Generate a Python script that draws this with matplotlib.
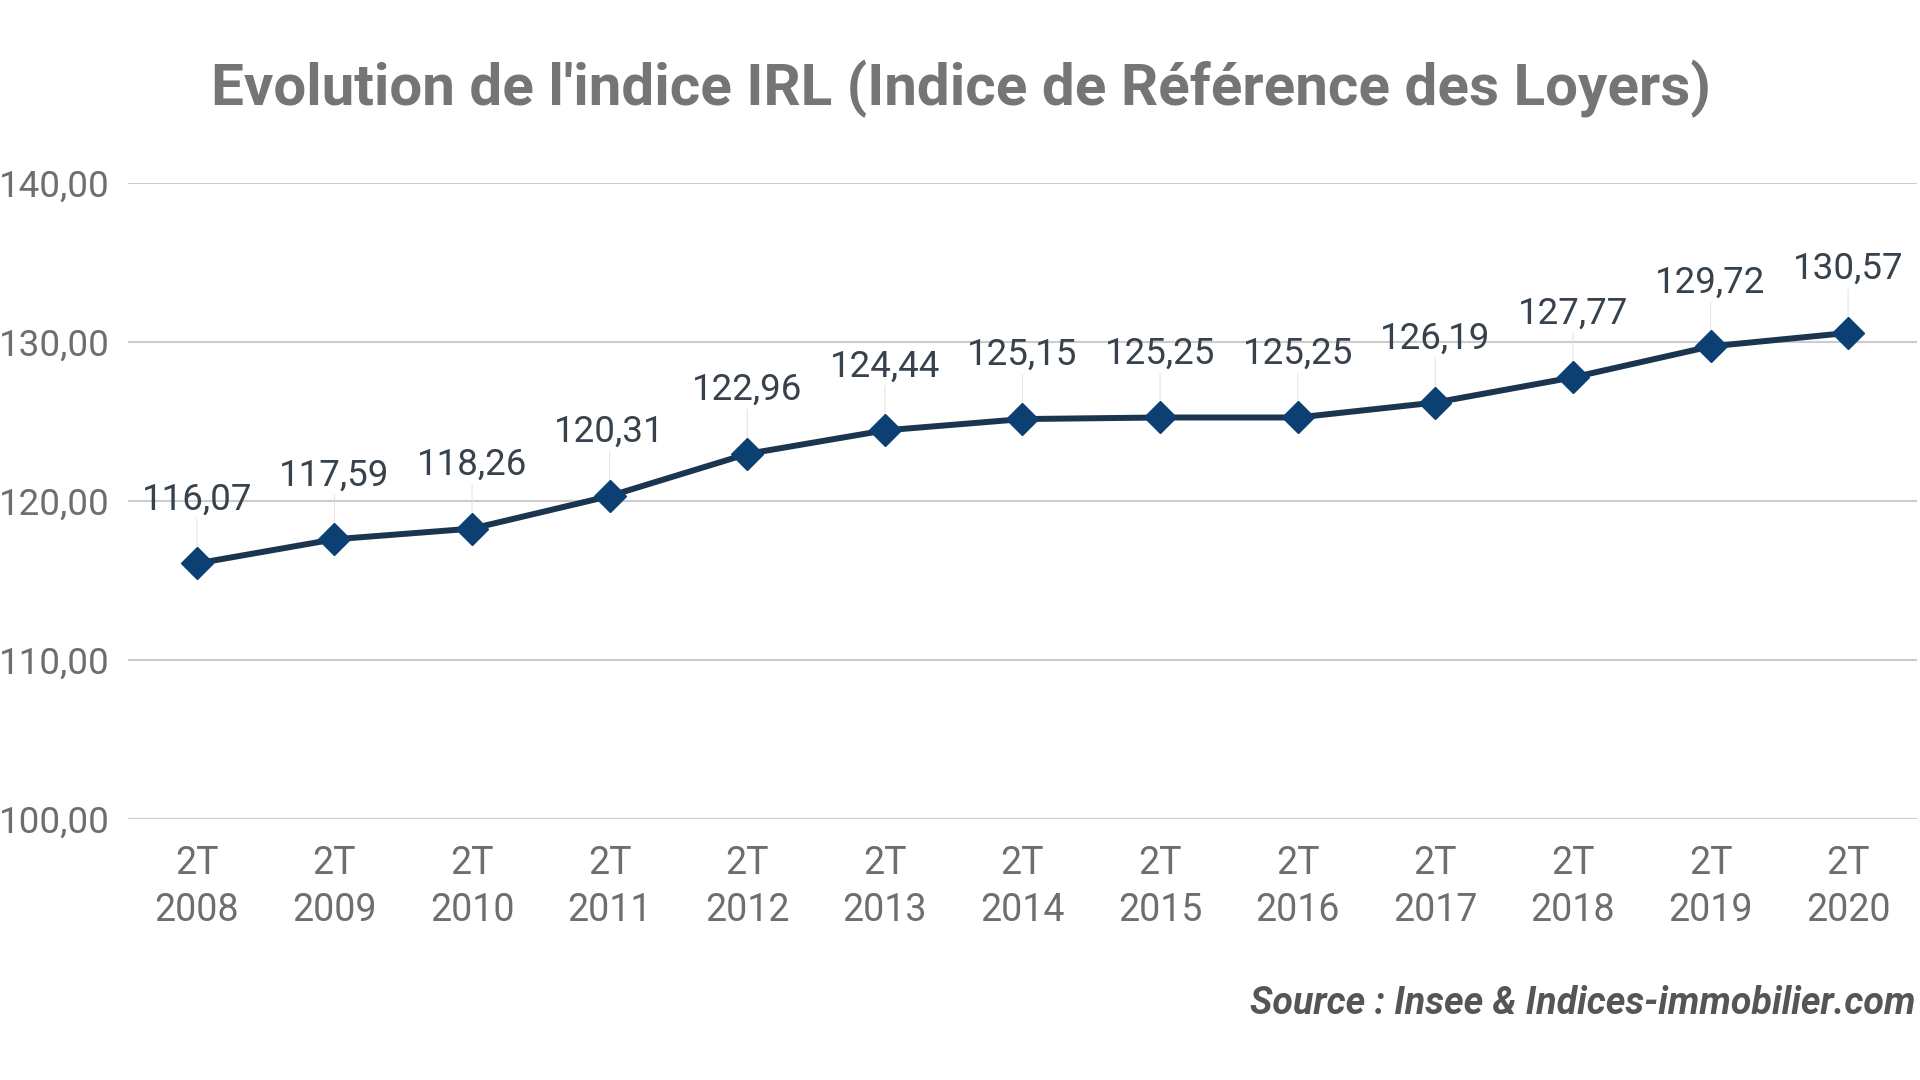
import matplotlib.pyplot as plt

plt.rcParams['font.family'] = ['Roboto', 'DejaVu Sans']

# IRL values, 2nd quarter of each year
years = ["2008", "2009", "2010", "2011", "2012", "2013", "2014",
         "2015", "2016", "2017", "2018", "2019", "2020"]
irl = [116.07, 117.59, 118.26, 120.31, 122.96, 124.44, 125.15,
       125.25, 125.25, 126.19, 127.77, 129.72, 130.57]
y_ticks = [100, 110, 120, 130, 140]

labels = ["2T\n" + y for y in years]
x = list(range(len(years)))

fig = plt.figure(figsize=(19.2, 10.8), dpi=100)
ax = fig.add_axes([0.0667, 0.2417, 0.9317, 0.5889])

ax.set_xlim(-0.5, len(years) - 0.5)
ax.set_ylim(100, 140)
ax.set_yticks(y_ticks)
ax.set_yticklabels([f"{v:.2f}".replace(".", ",") for v in y_ticks])
ax.set_xticks(x)
ax.set_xticklabels(labels, linespacing=1.32)
ax.yaxis.grid(True, color="#cccccc", linewidth=1.5)
ax.set_axisbelow(True)
for s in ax.spines.values():
    s.set_visible(False)
ax.tick_params(axis="both", length=0, colors="#6e6e6e")
ax.tick_params(axis="y", pad=13, labelsize=26.5)
ax.tick_params(axis="x", pad=19, labelsize=27)

ax.plot(x, irl, color="#1b3550", linewidth=4.3, zorder=3)
ax.plot(x, irl, linestyle="none", marker="D", markersize=16,
        color="#0c3f72", zorder=4)

# data labels with faint leader lines
for xi, v in zip(x, irl):
    ax.annotate("", xy=(xi, v), xytext=(0, 32), textcoords="offset points",
                arrowprops=dict(arrowstyle="-", color="#e2e2e2", lw=0.7,
                                shrinkA=0, shrinkB=8), zorder=2)
    ax.annotate(f"{v:.2f}".replace(".", ","), xy=(xi, v), xytext=(0, 46),
                textcoords="offset points", ha="center", va="center",
                fontsize=26.5, color="#37424d", zorder=5)

fig.text(0.5005, 0.9176, "Evolution de l'indice IRL (Indice de Référence des Loyers)",
         ha="center", va="center", fontsize=42, fontweight="bold", color="#757575")
fig.text(0.9975, 0.0704, "Source : Insee & Indices-immobilier.com",
         ha="right", va="center", fontsize=27, fontweight="bold",
         fontstyle="italic", color="#555555")

fig.savefig("out.png", dpi=100, facecolor="white")
